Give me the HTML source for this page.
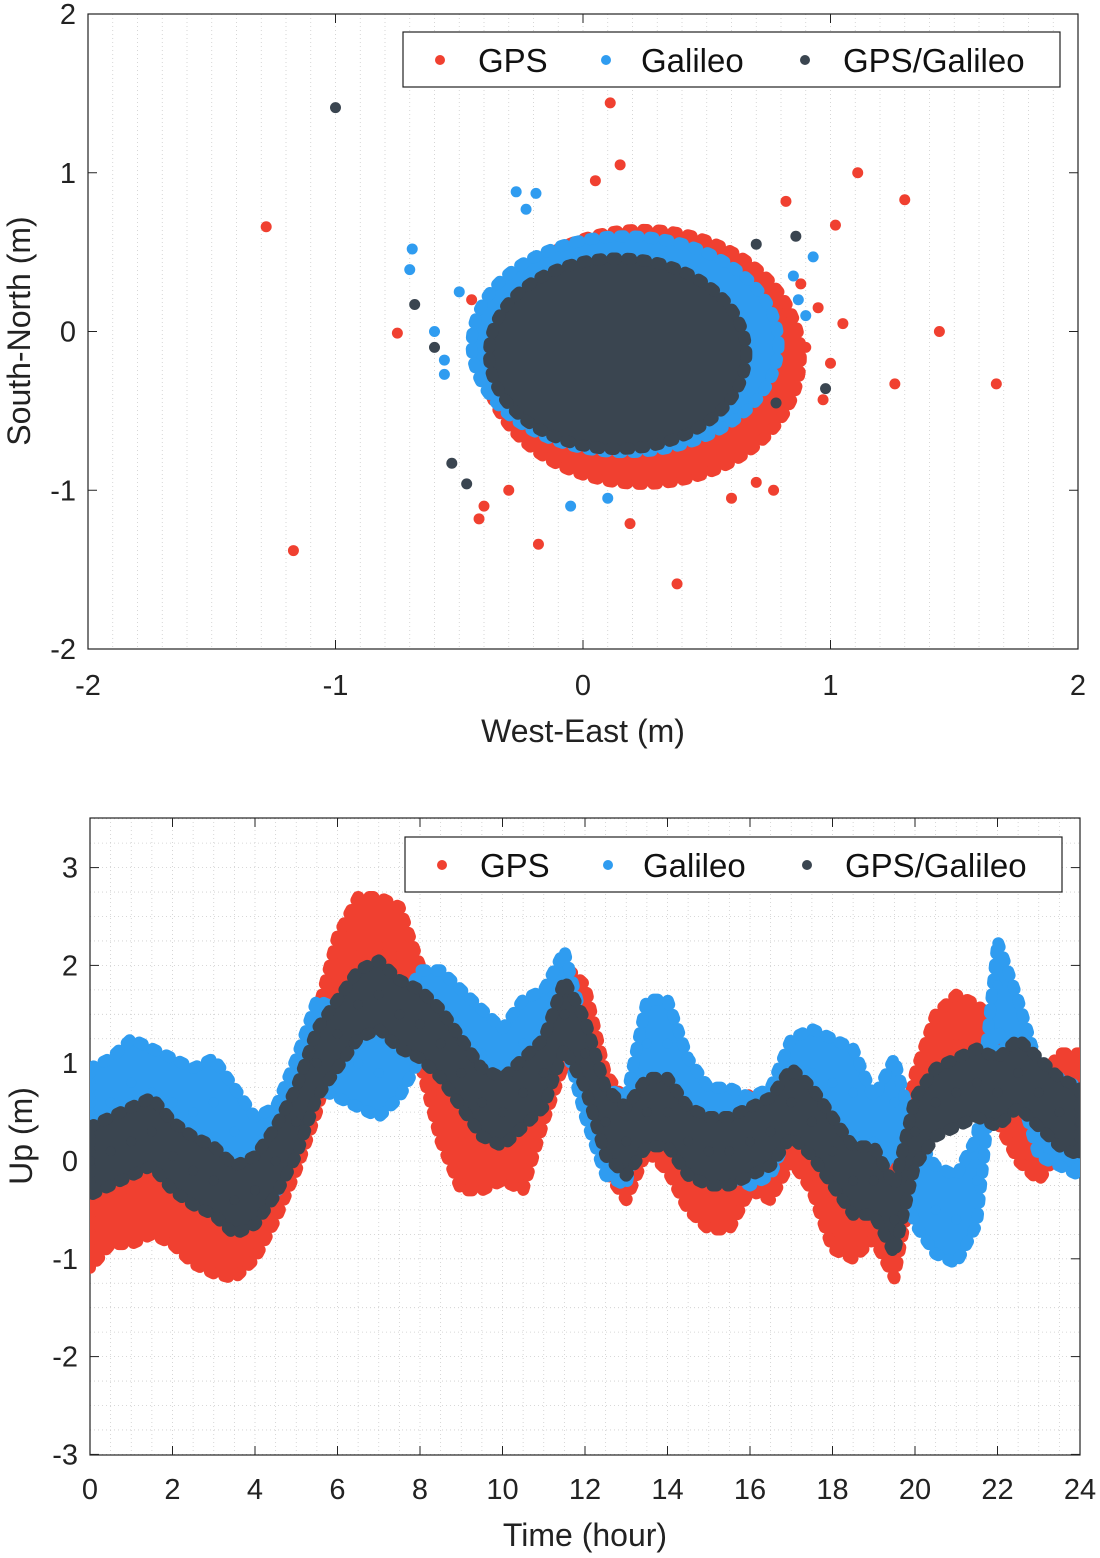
<!DOCTYPE html>
<html><head><meta charset="utf-8">
<style>
body{margin:0;background:#fff;}
svg{display:block;font-family:"Liberation Sans",sans-serif;}
</style></head>
<body>
<svg id="fig" width="1100" height="1558" viewBox="0 0 1100 1558">
<g id="top"></g>
<g id="bot"></g>
</svg>
<script>
// ---- Top chart data ----
const seriesNames = ["GPS","Galileo","GPS/Galileo"];
const seriesColors = ["#f04030","#2f9cf0","#3a4550"];
// core cloud per series: centre east, centre north, half-width, half-height (m)
const coreEast = [0.24, 0.17, 0.14];
const coreNorth = [-0.16, -0.08, -0.14];
const coreHalfE = [0.64, 0.62, 0.52];
const coreHalfN = [0.8, 0.68, 0.6];
const gpsOutE = [-1.28,-1.17,0.11,1.11,1.30,1.44,1.67,1.26,0.38,-0.75,-0.18,0.19,0.97,0.82,1.02,-0.42,0.9,1.0,1.05,0.95,-0.4,-0.3,0.6,0.7,0.77,0.05,0.15,-0.45,0.88];
const gpsOutN = [0.66,-1.38,1.44,1.0,0.83,0.0,-0.33,-0.33,-1.59,-0.01,-1.34,-1.21,-0.43,0.82,0.67,-1.18,-0.1,-0.2,0.05,0.15,-1.1,-1.0,-1.05,-0.95,-1.0,0.95,1.05,0.2,0.3];
const galOutE = [-0.69,-0.7,-0.27,-0.23,-0.19,-0.56,0.87,0.93,-0.56,-0.6,-0.5,0.85,0.9,-0.05,0.1];
const galOutN = [0.52,0.39,0.88,0.77,0.87,-0.18,0.2,0.47,-0.27,0.0,0.25,0.35,0.1,-1.1,-1.05];
const darkOutE = [-1.0,-0.53,-0.47,-0.68,0.98,0.78,0.86,-0.6,0.7];
const darkOutN = [1.41,-0.83,-0.96,0.17,-0.36,-0.45,0.6,-0.1,0.55];
// ---- Bottom chart data ----
const hours = [0,0.5,1,1.5,2,2.5,3,3.5,4,4.5,5,5.5,6,6.5,7,7.5,8,8.5,9,9.5,10,10.5,11,11.5,12,12.5,13,13.5,14,14.5,15,15.5,16,16.5,17,17.5,18,18.5,19,19.5,20,20.5,21,21.5,22,22.5,23,23.5,24];
const upGPS = [-0.6,-0.35,-0.35,-0.25,-0.35,-0.55,-0.65,-0.7,-0.5,-0.1,0.4,1.0,1.8,2.2,2.2,2.1,1.5,0.7,0.2,0.2,0.3,0.2,0.9,1.5,1.3,0.4,0.1,0.6,0.4,0.0,-0.2,-0.2,0.2,0.1,0.5,0.2,-0.4,-0.5,-0.3,-0.7,0.4,1.0,1.2,1.1,0.9,0.5,0.3,0.6,0.6];
const upGal = [0.5,0.6,0.8,0.7,0.6,0.5,0.6,0.3,0.0,0.1,0.6,1.2,1.1,1.0,0.9,1.1,1.5,1.5,1.3,1.1,0.9,1.2,1.3,1.7,0.9,0.3,0.2,1.2,1.2,0.6,0.3,0.3,0.2,0.3,0.8,0.9,0.8,0.7,0.2,0.6,-0.2,-0.5,-0.6,-0.2,1.8,1.2,0.5,0.4,0.3];
const upComb = [0.0,0.1,0.2,0.3,0.05,-0.1,-0.2,-0.4,-0.3,0.0,0.4,1.0,1.3,1.6,1.7,1.5,1.4,1.2,0.9,0.6,0.5,0.7,0.9,1.5,1.1,0.4,0.2,0.5,0.5,0.2,0.1,0.1,0.2,0.3,0.6,0.4,0.1,-0.2,-0.2,-0.6,0.3,0.6,0.7,0.8,0.7,0.9,0.7,0.5,0.4];
const upSpread = [0.5,0.45,0.35];
const topTicks = [-2,-1,0,1,2];
const botYTicks = [-3,-2,-1,0,1,2,3];
const botXTicks = [0,2,4,6,8,10,12,14,16,18,20,22,24];

const NS="http://www.w3.org/2000/svg";
function mk(parent,tag,attrs,text){const e=document.createElementNS(NS,tag);for(const k in attrs)e.setAttribute(k,attrs[k]);if(text!==undefined)e.textContent=text;parent.appendChild(e);return e;}

// ===== Top =====
const T=document.getElementById('top');
const tx=v=>88+(v+2)*247.5, ty=v=>331.5-v*158.75;
for(let v=-2;v<=2.001;v+=0.1){const x=tx(v);const g=mk(T,'line',{x1:x,x2:x,y1:14,y2:649,stroke:'#ccc','stroke-width':0.8,'stroke-dasharray':'1 3'});

}
const tf=mk(T,'rect',{x:88,y:14,width:990,height:635,fill:'none',stroke:'#222','stroke-width':1.2});

topTicks.forEach(v=>{
 mk(T,'line',{x1:tx(v),x2:tx(v),y1:649,y2:640,stroke:'#222'});mk(T,'line',{x1:tx(v),x2:tx(v),y1:14,y2:23,stroke:'#222'});
 mk(T,'line',{x1:88,x2:97,y1:ty(v),y2:ty(v),stroke:'#222'});mk(T,'line',{x1:1078,x2:1069,y1:ty(v),y2:ty(v),stroke:'#222'});
 const a=mk(T,'text',{x:tx(v),y:695,'font-size':29,'text-anchor':'middle',fill:'#222'},String(v));
 
 const b=mk(T,'text',{x:76,y:ty(v)+10,'font-size':29,'text-anchor':'end',fill:'#222'},String(v));
 
});
const xl=mk(T,'text',{x:583,y:742,'font-size':32,'text-anchor':'middle',fill:'#222'},'West-East (m)');

const yl=mk(T,'text',{x:30,y:331,'font-size':32,'text-anchor':'middle',fill:'#222',transform:'rotate(-90 30 331)'},'South-North (m)');

const outE=[gpsOutE,galOutE,darkOutE], outN=[gpsOutN,galOutN,darkOutN];
for(let s=0;s<3;s++){
 const el=mk(T,'ellipse',{cx:tx(coreEast[s]),cy:ty(coreNorth[s]),rx:coreHalfE[s]*247.5,ry:coreHalfN[s]*158.75,fill:seriesColors[s],stroke:seriesColors[s],'stroke-width':12,'stroke-dasharray':'4 11','stroke-linecap':'round'});
 
 
 outE[s].forEach((e,i)=>{const c=mk(T,'circle',{cx:tx(e),cy:ty(outN[s][i]),r:5.5,fill:seriesColors[s]});
 
 });
}
function legend(P,x,y){
 const g=mk(P,'g',{});
 mk(g,'rect',{x:x,y:y,width:657,height:55,fill:'#fff',stroke:'#222','stroke-width':1.2});
 const off=[37,203,402], toff=[75,238,440];
 for(let s=0;s<3;s++){
  const c=mk(g,'circle',{cx:x+off[s],cy:y+28,r:5,fill:seriesColors[s]});
  
  const t=mk(g,'text',{x:x+toff[s],y:y+40,'font-size':33,fill:'#111'},seriesNames[s]);
  
 }
}
legend(T,403,32);

// ===== Bottom =====
const B=document.getElementById('bot');
const bx=v=>90+v*41.25, by=v=>1161-v*97.8;
for(let v=0;v<=24.001;v+=0.5){const l=mk(B,'line',{x1:bx(v),x2:bx(v),y1:818,y2:1455,stroke:'#ccc','stroke-width':0.8,'stroke-dasharray':'1 3'});
}
for(let v=-3;v<=3.5;v+=0.25){const l=mk(B,'line',{x1:90,x2:1080,y1:by(v),y2:by(v),stroke:'#ccc','stroke-width':0.8,'stroke-dasharray':'1 3'});
}
const bf=mk(B,'rect',{x:90,y:818,width:990,height:637,fill:'none',stroke:'#222','stroke-width':1.2});

botXTicks.forEach(v=>{
 mk(B,'line',{x1:bx(v),x2:bx(v),y1:1455,y2:1446,stroke:'#222'});mk(B,'line',{x1:bx(v),x2:bx(v),y1:818,y2:827,stroke:'#222'});
 const a=mk(B,'text',{x:bx(v),y:1499,'font-size':29,'text-anchor':'middle',fill:'#222'},String(v));
 
});
botYTicks.forEach(v=>{
 mk(B,'line',{x1:90,x2:99,y1:by(v),y2:by(v),stroke:'#222'});mk(B,'line',{x1:1080,x2:1071,y1:by(v),y2:by(v),stroke:'#222'});
 const b=mk(B,'text',{x:78,y:by(v)+10,'font-size':29,'text-anchor':'end',fill:'#222'},String(v));
 
});
const bxl=mk(B,'text',{x:585,y:1546,'font-size':32,'text-anchor':'middle',fill:'#222'},'Time (hour)');

const byl=mk(B,'text',{x:32,y:1136,'font-size':32,'text-anchor':'middle',fill:'#222',transform:'rotate(-90 32 1136)'},'Up (m)');

const ups=[upGPS,upGal,upComb];
const clip=mk(B,'clipPath',{id:'bclip'});mk(clip,'rect',{x:90,y:818,width:990,height:637});
const gs=mk(B,'g',{'clip-path':'url(#bclip)'});
for(let s=0;s<3;s++){
 const d=ups[s], sp=upSpread[s];
 let pts=hours.map((h,i)=>bx(h)+','+by(d[i]+sp));
 pts=pts.concat(hours.map((h,i)=>bx(h)+','+by(d[i]-sp)).reverse());
 const p=mk(gs,'polygon',{points:pts.join(' '),fill:seriesColors[s],stroke:seriesColors[s],'stroke-width':12,'stroke-linejoin':'round','stroke-dasharray':'4 11','stroke-linecap':'round'});
 
 
 hours.forEach((h,i)=>{const c=mk(gs,'circle',{cx:bx(h),cy:by(d[i]),r:5,fill:seriesColors[s]});
 
 });
}
legend(B,405,837);
</script>
</body></html>
